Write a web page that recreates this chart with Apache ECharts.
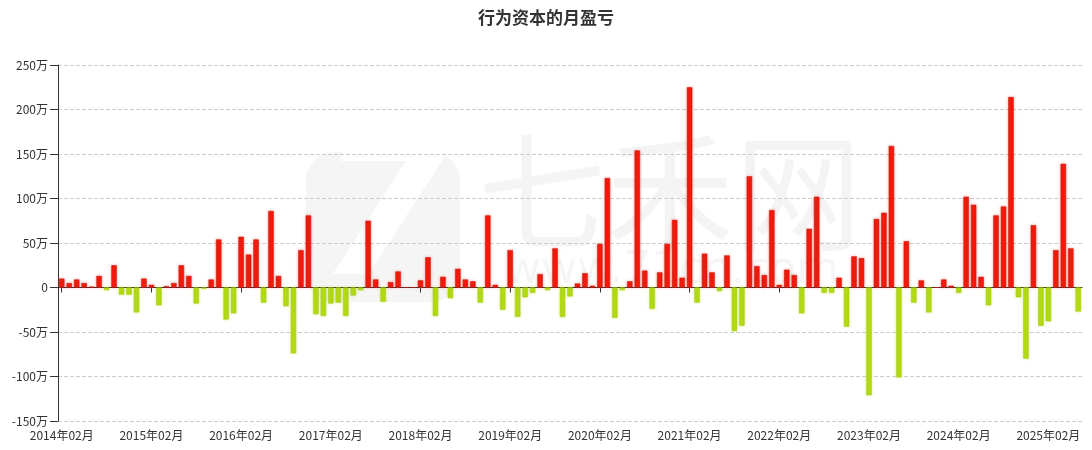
<!DOCTYPE html>
<html>
<head>
<meta charset="utf-8">
<script src="https://cdn.jsdelivr.net/npm/echarts@6/dist/echarts.min.js"></script>
<style>
html,body{margin:0;padding:0;background:#fff;}
#main{width:1092px;height:450px;}
</style>
</head>
<body>
<div id="main"></div>
<script>
// 月份类别：2014年02月 起，共 137 个月
const startYear = 2014, startMonth = 2, monthCount = 137;
const categories = [];
for (let k = 0; k < monthCount; k++) {
  const m0 = startMonth - 1 + k;
  const y = startYear + Math.floor(m0 / 12);
  const m = (m0 % 12) + 1;
  categories.push(y + '年' + (m < 10 ? '0' + m : m) + '月');
}

// 月盈亏（万）
const profit = [
  10, 5, 9, 5, 1, 13, -3, 25, -8, -8, -28, 10,
  3, -20, 1.5, 5, 25, 13, -18, -1.5, 9, 54, -36, -29,
  57, 37, 54, -17, 86, 13, -21, -74, 42, 81, -30, -32,
  -18, -17, -32, -9, -3, 75, 9, -16, 6, 18, 0, 0,
  8, 34, -32, 12, -12, 21, 9, 7, -17, 81, 3, -25,
  42, -33, -11, -6, 15, -3, 44, -33, -10, 4.5, 16, 2,
  49, 123, -34, -3, 7, 154, 19, -24, 17, 49, 76, 11,
  225, -17, 38, 17, -4, 36, -49, -43, 125, 24, 14, 87,
  3, 20, 14, -29, 66, 102, -6, -6, 11, -44, 35, 33,
  -121, 77, 84, 159, -101, 52, -17, 8, -28, 0, 9, 2,
  -6, 102, 93, 12, -20, 81, 91, 214, -11, -80, 70, -43,
  -38, 42, 139, 44, -27
];

const yMin = -150, yMax = 250, yStep = 50;
const title = '行为资本的月盈亏';

const RED = '#f01a0c', GREEN = '#b2d915';
const FONT = "'Noto Sans CJK SC', 'Microsoft YaHei', sans-serif";

const chart = echarts.init(document.getElementById('main'), null, {renderer: 'canvas'});
chart.setOption({
  animation: false,
  backgroundColor: '#fff',
  textStyle: {fontFamily: FONT},
  title: {
    text: title, left: 'center', top: 4,
    textStyle: {fontSize: 17, fontWeight: 'bold', color: '#333', fontFamily: FONT}
  },
  graphic: [
    {type: 'rect', z: -10, left: 306, top: 152, shape: {width: 154, height: 150, r: 28}, style: {fill: 'rgba(0,0,0,0.04)'}},
    {type: 'text', z: -9, left: 318, top: 130, style: {text: '7', font: 'italic bold 190px "DejaVu Sans"', fill: '#fff'}},
    {type: 'text', z: -10, left: 478, top: 128, style: {text: '七禾网', font: '128px "Noto Sans CJK SC"', fill: 'rgba(0,0,0,0.045)'}},
    {type: 'text', z: -10, left: 505, top: 250, style: {text: 'www.71cn.com', font: '44px "DejaVu Sans"', fill: 'rgba(0,0,0,0.04)'}}
  ],
  grid: {left: 58, right: 10, top: 65, bottom: 29, containLabel: false},
  xAxis: [
    {
      type: 'category', data: categories, boundaryGap: true,
      axisLine: {onZero: true, lineStyle: {color: '#333', width: 1}},
      axisTick: {show: true, alignWithLabel: true, interval: 11, length: 5, lineStyle: {color: '#333'}},
      axisLabel: {show: false},
      splitLine: {show: false}
    },
    {
      type: 'category', data: categories, boundaryGap: true, position: 'bottom',
      axisLine: {show: false, onZero: false},
      axisTick: {show: false},
      axisLabel: {show: true, interval: 11, color: '#333', fontSize: 12, margin: 8, fontFamily: FONT},
      splitLine: {show: false}
    }
  ],
  yAxis: {
    type: 'value', min: yMin, max: yMax, interval: yStep,
    axisLine: {show: true, lineStyle: {color: '#333'}},
    axisTick: {show: true, length: 8, lineStyle: {color: '#333'}},
    axisLabel: {
      color: '#333', fontSize: 12, margin: 10, fontFamily: FONT,
      formatter: v => v === 0 ? '0' : v + '万'
    },
    splitLine: {show: true, lineStyle: {color: '#ccc', type: 'dashed'}}
  },
  series: [{
    type: 'bar',
    xAxisIndex: 0,
    barWidth: '72%',
    data: profit.map(v => ({
      value: v,
      itemStyle: {
        color: v >= 0 ? RED : GREEN,
        borderColor: v >= 0 ? '#c8140a' : '#a6cc10',
        borderWidth: 0.5,
        shadowBlur: 3,
        shadowColor: v >= 0 ? 'rgba(240,60,40,0.45)' : 'rgba(180,220,20,0.45)'
      }
    }))
  }]
});
</script>
</body>
</html>
